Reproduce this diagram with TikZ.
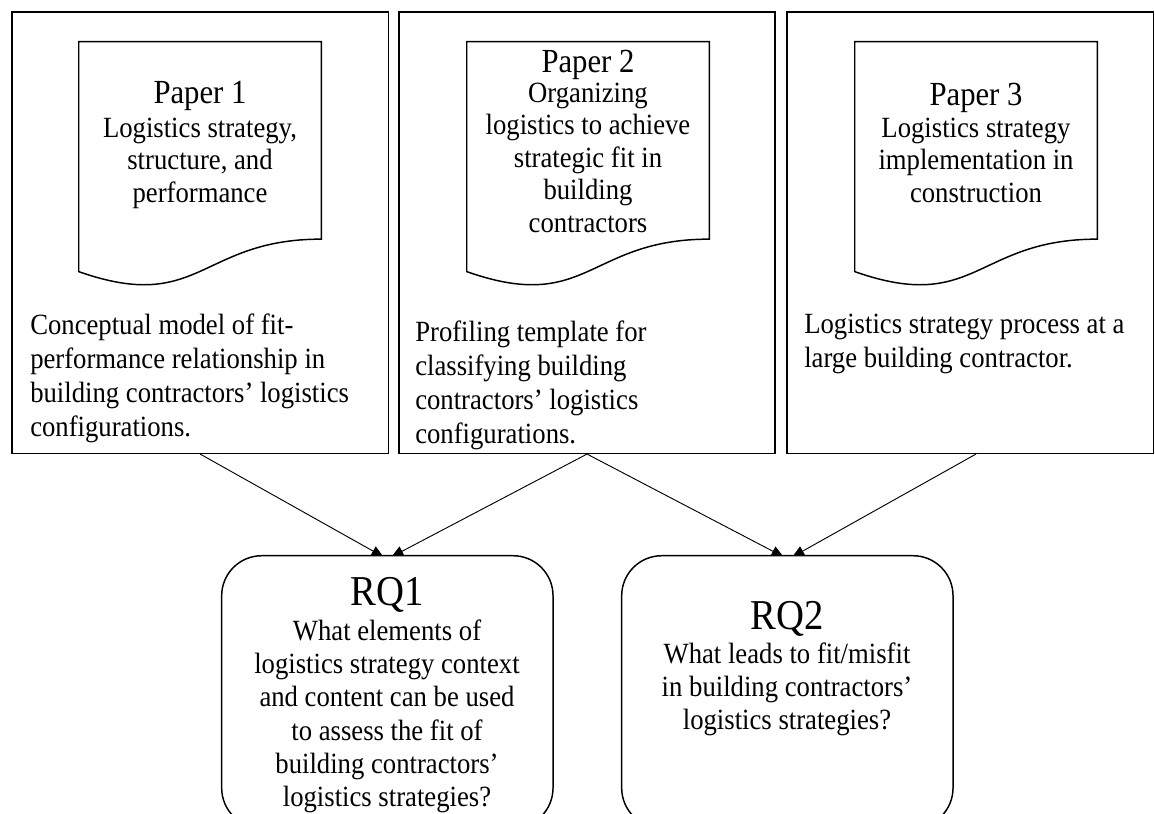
\documentclass[tikz,border=0pt]{standalone}
\usepackage{fontspec}
\setmainfont{Liberation Serif}[FakeStretch=0.91]
\usetikzlibrary{arrows.meta,calc}
\pgfdeclarelayer{back}
\pgfsetlayers{back,main}
% strut that fixes the top of a text block above its first baseline
\newcommand\firstline{\rule{0pt}{18pt}}
% flowchart "document" outline with a wavy lower edge
\newcommand\docoutline[1]{%
  \draw[docline] (#1.north west) -- (#1.north east)
    -- ($(#1.north east)!0.802!(#1.south east)$)
    .. controls ($(#1.north)!0.802!(#1.south)$) and ($(#1.north)!1.1075!(#1.south)$)
    .. ($(#1.north west)!0.934!(#1.south west)$) -- cycle;}

\begin{document}
\begin{tikzpicture}[x=0.75pt,y=-0.75pt,
  panel/.style={draw, line width=1.1pt, minimum height=331pt, inner sep=0},
  docbox/.style={minimum width=181.5pt, minimum height=184.2pt, inner sep=0},
  docline/.style={line width=1.1pt, line join=miter},
  head/.style={anchor=base, inner sep=0, font={\fontsize{25.3}{30}\selectfont}},
  doctext/.style={anchor=north, inner sep=0, align=center, font={\fontsize{22}{24.4}\selectfont}},
  note/.style={anchor=north west, inner sep=0, align=left, font={\fontsize{22}{25.5}\selectfont}},
  rqbox/.style={draw, fill=white, line width=1.1pt, rounded corners=30pt, minimum width=248.5pt, minimum height=204.2pt, inner sep=0},
  rqhead/.style={anchor=base, inner sep=0, font={\fontsize{31.9}{36}\selectfont}},
  rqtext/.style={anchor=north, inner sep=0, align=center, font={\fontsize{22}{25}\selectfont}},
  link/.style={line width=0.7pt, -{Triangle[length=9pt,width=8pt]}, shorten >=-3pt}]

\useasboundingbox (0,0) rectangle (1155,813);
\clip (0,0) rectangle (1155,813);

% three paper panels
\node[panel, minimum width=282.2pt] (b1) at (200.15,232.65) {};
\node[panel, minimum width=282pt]   (b2) at (587,232.65) {};
\node[panel, minimum width=274.9pt] (b3) at (970.25,232.65) {};

% document symbols
\node[docbox] (d1) at (200,164.8) {};
\node[docbox] (d2) at (588,164.8) {};
\node[docbox] (d3) at (976,164.8) {};
\docoutline{d1}
\docoutline{d2}
\docoutline{d3}

\node[head] (h1) at (200,104) {Paper 1};
\node[doctext] (t1) at (200,113) {\firstline Logistics strategy,\\structure, and\\performance};
\node[head] (h2) at (588,73) {Paper 2};
\node[doctext] (t2) at (588,78) {\firstline Organizing\\logistics to achieve\\strategic fit in\\building\\contractors};
\node[head] (h3) at (976,106) {Paper 3};
\node[doctext] (t3) at (976,113) {\firstline Logistics strategy\\implementation in\\construction};

% contributions
\node[note] (n1) at (30,310) {\firstline Conceptual model of fit-\\performance relationship in\\building contractors’ logistics\\configurations.};
\node[note] (n2) at (415,317) {\firstline Profiling template for\\classifying building\\contractors’ logistics\\configurations.};
\node[note] (n3) at (804,309) {\firstline Logistics strategy process at a\\large building contractor.};

% research questions
\node[rqbox] (rq1) at (387.35,691.85) {};
\node[rqbox] (rq2) at (787.35,691.85) {};
\node[rqhead] (q1) at (387,605) {RQ1};
\node[rqtext] (p1) at (387,616) {\firstline What elements of\\logistics strategy context\\and content can be used\\to assess the fit of\\building contractors’\\logistics strategies?};
\node[rqhead] (q2) at (787,629) {RQ2};
\node[rqtext] (p2) at (787,639) {\firstline What leads to fit/misfit\\in building contractors’\\logistics strategies?};

% connectors
\begin{pgfonlayer}{back}
\draw[link] (b1.south) -- ([xshift=-5.5pt]rq1.north);
\draw[link] (b2.south) -- ([xshift=5.7pt]rq1.north);
\draw[link] (b2.south) -- ([xshift=-5.5pt]rq2.north);
\draw[link] (d3 |- b3.south) -- ([xshift=6.3pt]rq2.north);
\end{pgfonlayer}
\end{tikzpicture}
\end{document}
